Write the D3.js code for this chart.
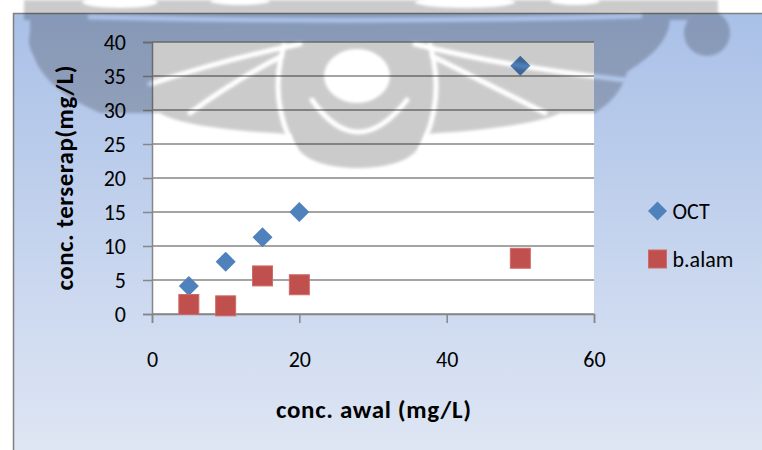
<!DOCTYPE html>
<html>
<head>
<meta charset="utf-8">
<script src="https://cdn.jsdelivr.net/npm/d3@7"></script>
<style>
    body { margin: 0; background: #fff; }
    svg { display: block; }
    text { font-family: Carlito, Calibri, Lato, sans-serif; fill: #000; }
</style>
</head>
<body>
<div id="chart-area"></div>
<script>
// data
var concAwal = [5, 10, 15, 20, 50];
var octValues = [4.1, 7.7, 11.3, 15.0, 36.5];
var balamValues = [1.4, 1.2, 5.6, 4.3, 8.2];
var seriesNames = ['OCT', 'b.alam'];
var seriesColors = ['#4f81bd', '#c0504d'];
var xTicks = [0, 20, 40, 60];
var yTicks = [0, 5, 10, 15, 20, 25, 30, 35, 40];
var xTitle = 'conc. awal (mg/L)';
var yTitle = 'conc. terserap(mg/L)';

var W = 762, H = 450;
var margins = { top: 42, bottom: 136, left: 152, right: 168 };
var width = W - margins.left - margins.right;
var height = H - margins.top - margins.bottom;

var svg = d3.select('#chart-area')
    .append('svg')
    .attr('width', W)
    .attr('height', H);

var defs = svg.append('defs');
var grad = defs.append('linearGradient')
    .attr('id', 'bg')
    .attr('x1', 0).attr('y1', 0).attr('x2', 0).attr('y2', 1);
grad.append('stop').attr('offset', '0%').attr('stop-color', '#a9c0e7');
grad.append('stop').attr('offset', '100%').attr('stop-color', '#e0e7f4');

var blur = defs.append('filter')
    .attr('id', 'soft')
    .attr('filterUnits', 'userSpaceOnUse')
    .attr('x', -20).attr('y', -20).attr('width', W + 40).attr('height', H + 40);
blur.append('feGaussianBlur').attr('stdDeviation', 1.4);

// chart area
svg.append('rect')
    .attr('x', 13).attr('y', 13)
    .attr('width', W).attr('height', H)
    .attr('fill', 'url(#bg)');
svg.append('path')
    .attr('d', 'M13.5,' + H + 'V13.5H' + W)
    .attr('fill', 'none')
    .attr('stroke', '#7f7f7f')
    .attr('stroke-width', 1.5);

var g = svg.append('g')
    .attr('transform', `translate(${margins.left}, ${margins.top})`);

var x = d3.scaleLinear().domain([0, 60]).range([0, width]);
var y = d3.scaleLinear().domain([0, 40]).range([height, 0]);

g.append('rect')
    .attr('width', width)
    .attr('height', height)
    .attr('fill', '#fff');

// gridlines
g.selectAll('.grid')
    .data(yTicks)
    .enter()
    .append('line')
    .attr('class', 'grid')
    .attr('x1', 0)
    .attr('x2', width)
    .attr('y1', d => y(d))
    .attr('y2', d => y(d))
    .attr('stroke', '#868686')
    .attr('stroke-width', 1.5);

var yAxisCall = d3.axisLeft(y).tickValues(yTicks).tickSize(9).tickPadding(17);
var xAxisCall = d3.axisBottom(x).tickValues(xTicks).tickSize(9);

var yAxis = g.append('g')
    .attr('class', 'y-axis')
    .call(yAxisCall);
var xAxis = g.append('g')
    .attr('class', 'x-axis')
    .attr('transform', `translate(0, ${height})`)
    .call(xAxisCall);

[yAxis, xAxis].forEach(a => {
    a.select('.domain').attr('stroke', '#868686').attr('stroke-width', 1.5);
    a.selectAll('.tick line').attr('stroke', '#868686').attr('stroke-width', 1.5);
    a.selectAll('.tick text')
        .attr('font-size', '22px')
        .attr('font-family', 'Carlito, Calibri, Lato, sans-serif')
        .attr('fill', '#000');
});
xAxis.selectAll('.tick text').attr('y', 53).attr('dy', null);

// axis titles
g.append('text')
    .attr('x', width / 2 + 0.5)
    .attr('y', height + 104)
    .attr('text-anchor', 'middle')
    .attr('font-size', '25px')
    .attr('font-weight', 'bold')
    .attr('textLength', 195)
    .text(xTitle);

g.append('text')
    .attr('transform', 'rotate(-90)')
    .attr('x', -(178 - margins.top))
    .attr('y', 73 - margins.left)
    .attr('text-anchor', 'middle')
    .attr('font-size', '25px')
    .attr('font-weight', 'bold')
    .attr('textLength', 225)
    .text(yTitle);

// series
function diamond(cx, cy, r) {
    return `M${cx},${cy - r}L${cx + r},${cy}L${cx},${cy + r}L${cx - r},${cy}Z`;
}

g.selectAll('.oct')
    .data(concAwal)
    .enter()
    .append('path')
    .attr('class', 'oct')
    .attr('d', (d, i) => diamond(x(d), y(octValues[i]), 10))
    .attr('fill', seriesColors[0]);

g.selectAll('.balam')
    .data(concAwal)
    .enter()
    .append('rect')
    .attr('class', 'balam')
    .attr('x', d => x(d) - 10)
    .attr('y', (d, i) => y(balamValues[i]) - 10)
    .attr('width', 20)
    .attr('height', 20)
    .attr('fill', seriesColors[1])
    .attr('stroke', '#cf6b68')
    .attr('stroke-width', 1);

// legend
var legend = svg.append('g').attr('transform', 'translate(657.5, 211)');
var items = legend.selectAll('.item')
    .data(seriesNames)
    .enter()
    .append('g')
    .attr('class', 'item')
    .attr('transform', (d, i) => `translate(0, ${i * 48})`);
items.each(function (d, i) {
    var it = d3.select(this);
    if (i === 0) {
        it.append('path').attr('d', diamond(0, 0, 9.5)).attr('fill', seriesColors[0]);
    } else {
        it.append('rect').attr('x', -9).attr('y', -9).attr('width', 18).attr('height', 18)
            .attr('fill', seriesColors[1]).attr('stroke', '#cf6b68');
    }
    it.append('text')
        .attr('x', 15)
        .attr('y', 8)
        .attr('font-size', '22px')
        .text(d);
});

// faded page watermark lying over the chart
var mask = defs.append('mask').attr('id', 'wm-mask')
    .attr('maskUnits', 'userSpaceOnUse')
    .attr('x', 0).attr('y', 0).attr('width', W).attr('height', H);
mask.append('rect').attr('width', W).attr('height', H).attr('fill', '#fff');
var holes = mask.append('g').attr('filter', 'url(#soft)');
holes.append('ellipse').attr('cx', 357).attr('cy', 76).attr('rx', 33).attr('ry', 27).attr('fill', '#000');
[
    'M312,100 Q357,164 407,100',
    'M284,45 Q268,100 295,150',
    'M430,45 Q446,100 420,150',
    'M300,44 Q230,58 150,84',
    'M282,56 Q235,80 190,113',
    'M415,44 Q500,66 625,80',
    'M432,56 Q490,85 545,113',
    'M90,17 Q360,24 640,16'
].forEach(d => {
    holes.append('path').attr('d', d).attr('fill', 'none')
        .attr('stroke', '#000').attr('stroke-width', 5).attr('stroke-linecap', 'round');
});
[[120, 2, 38, 6], [240, 1, 30, 4], [465, 2, 50, 6], [575, 1, 25, 4]].forEach(e => {
    holes.append('ellipse').attr('cx', e[0]).attr('cy', e[1]).attr('rx', e[2]).attr('ry', e[3]).attr('fill', '#000');
});

var wm = svg.append('g')
    .attr('mask', 'url(#wm-mask)')
    .attr('opacity', 0.2)
    .append('g')
    .attr('filter', 'url(#soft)');
wm.append('rect').attr('x', 24).attr('y', 0).attr('width', 666).attr('height', 20).attr('fill', '#000');
wm.append('rect').attr('x', 680).attr('y', 0).attr('width', 38).attr('height', 16).attr('fill', '#000');
wm.append('circle').attr('cx', 707).attr('cy', 33).attr('r', 23).attr('fill', '#000');
wm.append('ellipse').attr('cx', 40).attr('cy', 40).attr('rx', 11).attr('ry', 18).attr('fill', '#000');
wm.append('path')
    .attr('d', 'M30,20 L670,20 C668,45 645,60 627,72 C622,90 612,102 595,113 L560,113 ' +
        'C540,124 470,132 425,134 C420,160 390,168 358,168 C326,168 296,160 291,134 ' +
        'C245,132 180,126 160,113 L100,113 C60,95 35,75 30,42 Z')
    .attr('fill', '#000');
</script>
</body>
</html>
